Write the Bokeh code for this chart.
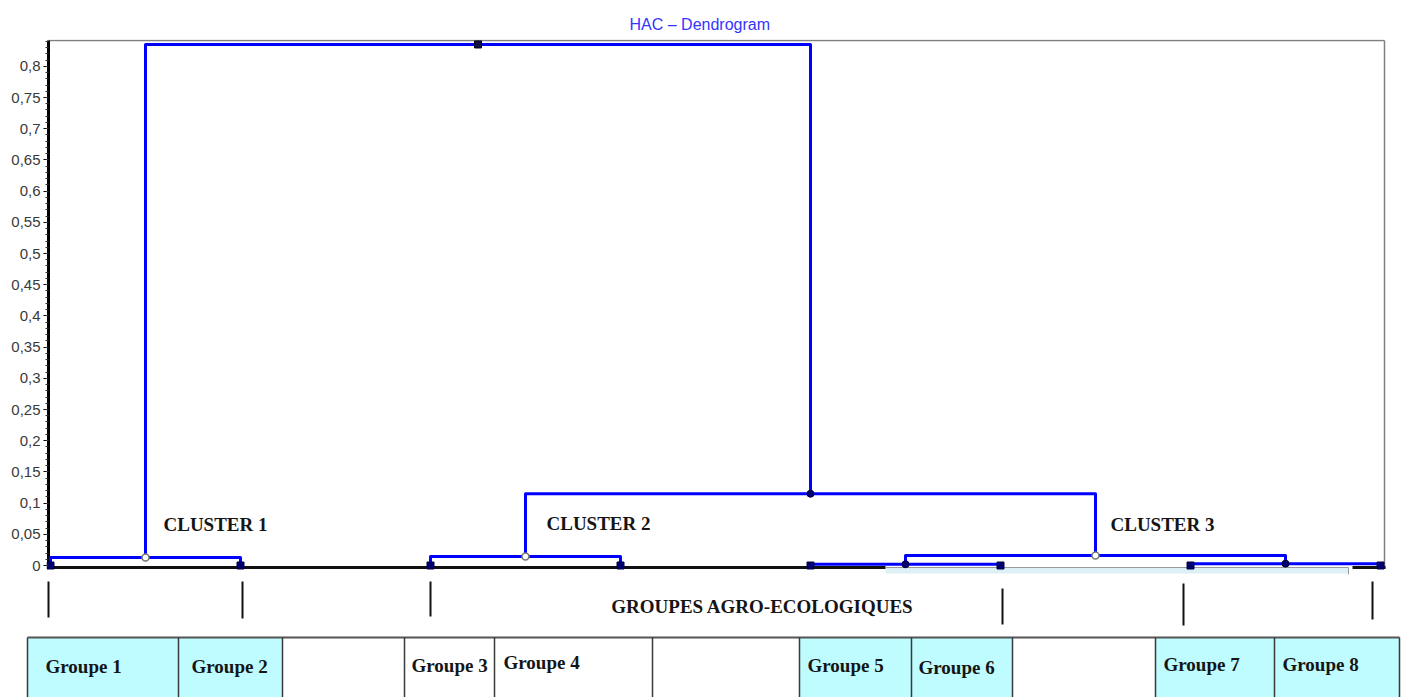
import numpy as np
from bokeh.plotting import figure
from bokeh.models import Range1d, FixedTicker, CustomJSTickFormatter
from bokeh.embed import file_html
from bokeh.resources import INLINE
from bokeh.core.properties import value

# ---------------- data ----------------
groups = ["Groupe 1", "Groupe 2", "Groupe 3", "Groupe 4",
          "Groupe 5", "Groupe 6", "Groupe 7", "Groupe 8"]
# agglomeration steps (scipy-like): children ids and merge height
merge_a = [4, 6, 0, 2, 8, 11, 10]
merge_b = [5, 7, 1, 3, 9, 12, 13]
merge_h = [0.002, 0.003, 0.013, 0.0145, 0.016, 0.115, 0.835]
cluster_names = ["CLUSTER 1", "CLUSTER 2", "CLUSTER 3"]
y_tick_values = [0, 0.05, 0.1, 0.15, 0.2, 0.25, 0.3, 0.35, 0.4,
                 0.45, 0.5, 0.55, 0.6, 0.65, 0.7, 0.75, 0.8]
title_text = "HAC \u2013 Dendrogram"
axis_caption = "GROUPES AGRO-ECOLOGIQUES"

# ---------------- layout helpers ----------------
LEAF0_PX, LEAF_STEP_PX = 50.0, 190.0
Y0_PX, PX_PER_UNIT = 565.0, 624.0


def px2x(px):
    return (px - LEAF0_PX) / LEAF_STEP_PX


def py2y(py):
    return (Y0_PX - py) / PX_PER_UNIT


W = 1407
HA = 576
HB = 697 - HA
BLUE = "#0000ff"
NAVY = "#000070"
SERIF = value("Liberation Serif")
TXT = "#151515"

# ---------------- dendrogram geometry ----------------
node_x = [float(i) for i in range(len(groups))]
node_h = [0.0] * len(groups)
paths_x, paths_y = [], []
for a, b, h in zip(merge_a, merge_b, merge_h):
    paths_x.append([node_x[a], node_x[a], node_x[b], node_x[b]])
    paths_y.append([node_h[a], h, h, node_h[b]])
    node_x.append((node_x[a] + node_x[b]) / 2.0)
    node_h.append(h)

# ---------------- figure A: dendrogram ----------------
p = figure(width=W, height=HA,
           x_range=Range1d(px2x(46), px2x(1386)),
           y_range=Range1d(py2y(576), py2y(39)),
           x_axis_location=None,
           output_backend="svg", toolbar_location=None,
           min_border_left=46, min_border_right=W - 1386,
           min_border_top=39, min_border_bottom=0)
p.grid.visible = False
p.outline_line_color = None
p.background_fill_color = "white"
p.border_fill_color = "white"

p.title.text = title_text
p.title.align = "left"
p.title.offset = 583
p.title.standoff = 13
p.title.text_font = "Liberation Sans"
p.title.text_font_style = "normal"
p.title.text_font_size = "16px"
p.title.text_color = "#3434ff"

ya = p.yaxis[0]
ya.ticker = FixedTicker(ticks=y_tick_values,
                        minor_ticks=list(np.round(np.arange(0, 0.845, 0.01), 3)))
ya.formatter = CustomJSTickFormatter(
    code="return (Math.round(tick*100)/100).toString().replace('.', ',');")
ya.axis_line_color = None
ya.major_tick_in = 2
ya.major_tick_out = 3
ya.minor_tick_in = 2
ya.minor_tick_out = 1
ya.major_tick_line_color = "black"
ya.minor_tick_line_color = "#333333"
ya.major_label_text_font = "Liberation Sans"
ya.major_label_text_font_size = "15px"
ya.major_label_text_color = "#3a3a3a"
ya.major_label_standoff = 3

# plot box: gray top/right, black thick left axis line
p.segment(x0=[px2x(48), px2x(1384)], y0=[py2y(40), py2y(568)],
          x1=[px2x(1384), px2x(1384)], y1=[py2y(40), py2y(40)],
          line_color="#808080", line_width=1.5)
p.segment(x0=[px2x(48)], y0=[py2y(568)], x1=[px2x(48)], y1=[py2y(40)],
          line_color="black", line_width=3)

# bottom base line (scanned look)
p.quad(left=[px2x(885)], right=[px2x(1348)], top=[py2y(567)],
       bottom=[py2y(573)], fill_color="#dcf0f5", line_color=None)
p.segment(x0=[px2x(1348)], y0=[py2y(567)], x1=[px2x(1348)], y1=[py2y(574)],
          line_color="#999999", line_width=1)
p.segment(x0=[px2x(48), px2x(1352)], y0=[py2y(567), py2y(567)],
          x1=[px2x(885), px2x(1385)], y1=[py2y(567), py2y(567)],
          line_color="#111111", line_width=3)
p.segment(x0=[px2x(885)], y0=[py2y(567)], x1=[px2x(1348)], y1=[py2y(567)],
          line_color="#9a9a9a", line_width=1)

# dendrogram links
p.multi_line(xs=paths_x, ys=paths_y, line_color=BLUE, line_width=3,
             line_join="round")

# markers
n_leaf = len(groups)
p.scatter(x=node_x[:n_leaf], y=node_h[:n_leaf], marker="square", size=7,
          fill_color=NAVY, line_color="#000040")
hollow = [n_leaf + 2, n_leaf + 3, n_leaf + 4]
filled = [n_leaf + 0, n_leaf + 1, n_leaf + 5]
p.scatter(x=[node_x[i] for i in filled], y=[node_h[i] for i in filled],
          marker="circle", size=7, fill_color=NAVY, line_color="#000040")
p.scatter(x=[node_x[i] for i in hollow], y=[node_h[i] for i in hollow],
          marker="circle", size=7, fill_color="white", line_color="#777777",
          line_width=1.5)
p.scatter(x=[node_x[-1]], y=[node_h[-1]], marker="square", size=7,
          fill_color="#101040", line_color="#000020")

# cluster labels
p.text(x=[px2x(163), px2x(546), px2x(1110)],
       y=[py2y(524), py2y(523), py2y(524)],
       text=cluster_names, text_font=SERIF, text_font_style="bold",
       text_font_size="19px", text_baseline="middle", text_align="left",
       text_color=TXT)

# ---------------- figure B: group table ----------------
q = figure(width=W, height=HB,
           x_range=Range1d(px2x(0), px2x(W)),
           y_range=Range1d(697, HA),
           x_axis_location=None, y_axis_location=None,
           output_backend="svg", toolbar_location=None, min_border=0)
q.grid.visible = False
q.outline_line_color = None
q.background_fill_color = "white"
q.border_fill_color = "white"

# boundary ticks
tick_px = [48, 242, 430, 1002, 1183, 1372]
tick_top = [581, 581, 581, 588, 583, 581]
tick_bot = [617, 618, 616, 624, 625, 619]
q.segment(x0=[px2x(t) for t in tick_px], y0=tick_top,
          x1=[px2x(t) for t in tick_px], y1=tick_bot,
          line_color="#111111", line_width=2)

q.text(x=[px2x(762)], y=[606], text=[axis_caption], text_font=SERIF,
       text_font_style="bold", text_font_size="19px", text_align="center",
       text_baseline="middle", text_color=TXT)

# table cells
edges_px = [27, 178, 282, 404, 494, 652, 799, 911, 1012, 1155, 1274, 1399]
cell_group = [0, 1, None, 2, 3, None, 4, 5, None, 6, 7]
cell_fill = ["#bffcff", "#bffcff", "white", "white", "white", "white",
             "#bffcff", "#bffcff", "white", "#bffcff", "#bffcff"]
TOP, BOT = 637, 705
q.quad(left=[px2x(e) for e in edges_px[:-1]],
       right=[px2x(e) for e in edges_px[1:]],
       top=[TOP] * (len(edges_px) - 1), bottom=[BOT] * (len(edges_px) - 1),
       fill_color=cell_fill, line_color=None)
q.segment(x0=[px2x(edges_px[0])], y0=[TOP], x1=[px2x(edges_px[-1])], y1=[TOP],
          line_color="#555555", line_width=2)
q.segment(x0=[px2x(e) for e in edges_px], y0=[TOP] * len(edges_px),
          x1=[px2x(e) for e in edges_px], y1=[BOT] * len(edges_px),
          line_color="#3a3a3a", line_width=1.5)

label_px = [45, 191, None, 411, 503, None, 807, 918, None, 1163, 1282]
label_y = [666, 666, None, 665, 662, None, 665, 667, None, 664, 664]
lx, ly, lt = [], [], []
for g, x, y in zip(cell_group, label_px, label_y):
    if g is not None:
        lx.append(px2x(x))
        ly.append(y)
        lt.append(groups[g])
q.text(x=lx, y=ly, text=lt, text_font=SERIF, text_font_style="bold",
       text_font_size="19px", text_align="left", text_baseline="middle",
       text_color=TXT)

open("out.html", "w").write(file_html([p, q], INLINE))
